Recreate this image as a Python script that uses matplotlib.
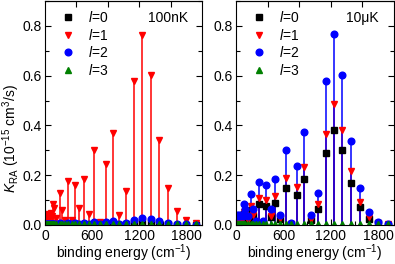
import numpy as np
import matplotlib
matplotlib.use("Agg")
import matplotlib.pyplot as plt
from matplotlib.ticker import MultipleLocator, FixedLocator, NullFormatter

plt.rcParams['font.family'] = ['Liberation Sans', 'DejaVu Sans']
plt.rcParams['mathtext.fontset'] = 'custom'
plt.rcParams['mathtext.rm'] = 'Liberation Sans'
plt.rcParams['mathtext.it'] = 'Liberation Sans:italic'
plt.rcParams['mathtext.bf'] = 'Liberation Sans:bold'

# --- data (binding energy in cm^-1, K_RA in 1e-15 cm^3/s) ---
energy = [5, 14, 24, 35, 47, 60, 74, 85, 97, 119, 146, 185, 214, 255, 295, 345,
          386, 437, 495, 556, 628, 700, 777, 860, 948, 1038, 1134, 1239, 1344,
          1450, 1565, 1679, 1802, 1924]

# 100 nK
l0_100nK = [0.002, 0.002, 0.002, 0.002, 0.002, 0.002, 0.002, 0.002, 0.003, 0.002,
            0.002, 0.003, 0.002, 0.002, 0.003, 0.002, 0.003, 0.002, 0.003, 0.002,
            0.005, 0.002, 0.004, 0.007, 0.002, 0.004, 0.009, 0.013, 0.010, 0.006,
            0.003, 0.002, 0.001, 0.001]
l1_100nK = [0.035, 0.040, 0.032, 0.045, 0.030, 0.040, 0.050, 0.035, 0.083, 0.068,
            0.030, 0.128, 0.062, 0.022, 0.175, 0.020, 0.161, 0.070, 0.185, 0.044,
            0.302, 0.013, 0.245, 0.370, 0.040, 0.136, 0.579, 0.765, 0.602, 0.340,
            0.149, 0.057, 0.020, 0.009]
l2_100nK = [0.004, 0.004, 0.004, 0.005, 0.004, 0.005, 0.005, 0.004, 0.006, 0.005,
            0.004, 0.007, 0.005, 0.004, 0.009, 0.004, 0.008, 0.006, 0.009, 0.006,
            0.013, 0.005, 0.011, 0.016, 0.006, 0.010, 0.021, 0.027, 0.023, 0.016,
            0.008, 0.005, 0.003, 0.002]
l3_100nK = [0.003] * 34

# 10 uK
l0_10uK = [0.020, 0.025, 0.022, 0.025, 0.020, 0.025, 0.025, 0.022, 0.044, 0.033,
           0.018, 0.059, 0.035, 0.008, 0.083, 0.008, 0.077, 0.033, 0.090, 0.024,
           0.148, 0.005, 0.119, 0.184, 0.020, 0.065, 0.288, 0.380, 0.300, 0.168,
           0.073, 0.026, 0.008, 0.002]
l1_10uK = [0.025, 0.030, 0.028, 0.030, 0.025, 0.030, 0.030, 0.028, 0.054, 0.040,
           0.022, 0.075, 0.040, 0.010, 0.108, 0.010, 0.099, 0.037, 0.116, 0.028,
           0.189, 0.006, 0.151, 0.232, 0.024, 0.083, 0.365, 0.485, 0.380, 0.215,
           0.092, 0.033, 0.010, 0.003]
l2_10uK = [0.035, 0.040, 0.038, 0.040, 0.036, 0.042, 0.040, 0.038, 0.083, 0.066,
           0.035, 0.124, 0.063, 0.017, 0.172, 0.015, 0.159, 0.066, 0.185, 0.040,
           0.300, 0.010, 0.239, 0.372, 0.040, 0.129, 0.578, 0.768, 0.604, 0.338,
           0.148, 0.053, 0.013, 0.004]
l3_10uK = [0.003] * 34

labels = [r'$\mathit{l}$=0', r'$\mathit{l}$=1', r'$\mathit{l}$=2', r'$\mathit{l}$=3']
colors = ['black', 'red', 'blue', 'green']
markers = ['s', 'v', 'o', '^']
FS = 10

fig = plt.figure(figsize=(3.95, 2.64), dpi=100)
ax1 = fig.add_axes([45 / 395, 39 / 264, 157 / 395, 224 / 264])
ax2 = fig.add_axes([236 / 395, 39 / 264, 158 / 395, 224 / 264])


def draw_panel(ax, series, temp_text, text_x):
    # stems first, then markers on top
    for vals, c in zip(series, colors):
        ax.vlines(energy, 0, vals, color=c, lw=1.1)
    handles = []
    for vals, c, m, lab in zip(series, colors, markers, labels):
        h, = ax.plot(energy, vals, ls='none', marker=m, ms=4.8, color=c,
                     mec=c, label=lab)
        handles.append(h)
    ax.set_xlim(0, 2000)
    ax.set_ylim(0, 0.9)
    ax.xaxis.set_major_locator(FixedLocator([0, 600, 1200, 1800]))
    ax.xaxis.set_minor_locator(MultipleLocator(300))
    ax.yaxis.set_major_locator(MultipleLocator(0.2))
    ax.yaxis.set_minor_locator(MultipleLocator(0.1))
    ax.yaxis.set_major_formatter(plt.FuncFormatter(lambda v, p: f"{v:.1f}"))
    ax.tick_params(which='both', direction='in', top=False, right=True,
                   labelsize=FS)
    ax.tick_params(axis='x', pad=3)
    ax.tick_params(axis='y', pad=2.5)
    ax.tick_params(which='major', length=4, width=0.8)
    ax.tick_params(which='minor', length=3, width=0.8)
    # top axis ticks (unlabelled)
    top = ax.secondary_xaxis('top')
    top.xaxis.set_major_locator(FixedLocator([400, 800, 1200, 1600]))
    top.xaxis.set_major_formatter(NullFormatter())
    top.tick_params(direction='in', length=4, width=0.8)
    ax.set_xlabel(r'binding energy (cm$^{-1}$)', fontsize=FS, labelpad=-0.5)
    ax.legend(handles=handles, loc='upper left', frameon=False, fontsize=FS,
              handlelength=1.0, handletextpad=0.9, labelspacing=0.18,
              borderaxespad=0.1, bbox_to_anchor=(0.06, 0.99))
    ax.text(text_x, 0.925, temp_text, transform=ax.transAxes, ha='right',
            va='center', fontsize=FS)


draw_panel(ax1, [l0_100nK, l1_100nK, l2_100nK, l3_100nK], '100nK', 0.91)
draw_panel(ax2, [l0_10uK, l1_10uK, l2_10uK, l3_10uK], '10\u03bcK', 0.90)

fig.text(11 / 395, 1 - 139 / 264, r'$K_{\mathrm{RA}}$ (10$^{-15}$ cm$^3$/s)',
         rotation=90, ha='center', va='center', fontsize=FS)

fig.savefig('out.png', dpi=100)
